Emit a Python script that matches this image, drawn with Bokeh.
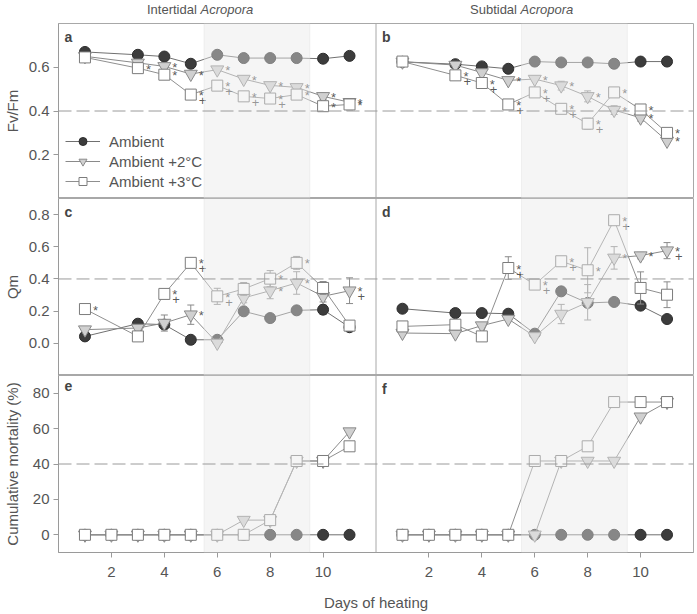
from bokeh.plotting import figure
from bokeh.models import (Range1d, FixedTicker, Span, BoxAnnotation, Label, Legend,
                          LegendItem, NumeralTickFormatter, Div)
from bokeh.layouts import column
from bokeh.embed import file_html
from bokeh.resources import INLINE
from bokeh.core.properties import value

FONT = "Liberation Sans"
TXT = "#555555"

# ---------------- data ----------------
days_pam = [1, 3, 4, 5, 6, 7, 8, 9, 10, 11]
days_mort = [1, 2, 3, 4, 5, 6, 7, 8, 9, 10, 11]
heat_start, heat_end = 5.5, 9.5
day_max = 12
x_ticks = [2, 4, 6, 8, 10]
threshold_pam = 0.4
threshold_mort = 40
column_titles = [("Intertidal", "Acropora"), ("Subtidal", "Acropora")]

# (a) Intertidal Fv/Fm
a_amb = [0.670, 0.657, 0.649, 0.616, 0.657, 0.642, 0.642, 0.642, 0.639, 0.652]
a_p2 = [0.650, 0.620, 0.604, 0.569, 0.589, 0.546, 0.517, 0.508, 0.467, 0.440]
a_p3 = [0.645, 0.596, 0.566, 0.475, 0.516, 0.467, 0.457, 0.475, 0.422, 0.430]
a_amb_se = [0, 0, 0, 0, 0, 0, 0, 0, 0, 0]
a_p2_se = [0, 0, 0, 0, 0, 0, 0, 0.012, 0.015, 0.015]
a_p3_se = [0.012, 0, 0, 0, 0, 0, 0, 0.02, 0.02, 0.025]
a_p2_sig = ["", "", "*", "*", "*", "*", "*", "*", "*", "*"]
a_p3_sig = ["", "*", "*", "*+", "*+", "*+", "*+", "*", "*", "*"]

# (b) Subtidal Fv/Fm
b_amb = [0.625, 0.614, 0.604, 0.593, 0.626, 0.622, 0.622, 0.616, 0.626, 0.626]
b_p2 = [0.625, 0.610, 0.576, 0.540, 0.546, 0.516, 0.467, 0.404, 0.369, 0.263]
b_p3 = [0.626, 0.563, 0.528, 0.430, 0.485, 0.410, 0.342, 0.485, 0.407, 0.300]
b_amb_se = [0, 0, 0, 0, 0, 0, 0, 0, 0, 0]
b_p2_se = [0, 0, 0, 0, 0, 0.02, 0.025, 0.02, 0.015, 0]
b_p3_se = [0.015, 0, 0, 0.01, 0.01, 0, 0.025, 0, 0, 0.02]
b_p2_sig = ["", "", "", "*", "*", "*", "*", "*", "*", "*"]
b_p3_sig = ["", "*+", "*+", "*+", "*+", "*+", "*+", "*", "*", "*"]

# (c) Intertidal Qm
c_amb = [0.043, 0.122, 0.116, 0.022, 0.022, 0.199, 0.157, 0.205, 0.209, 0.100]
c_p2 = [0.085, 0.095, 0.126, 0.178, 0.002, 0.282, 0.327, 0.375, 0.292, 0.327]
c_p3 = [0.213, 0.043, 0.307, 0.500, 0.292, 0.338, 0.402, 0.500, 0.344, 0.110]
c_amb_se = [0, 0, 0, 0, 0, 0, 0, 0, 0.03, 0.02]
c_p2_se = [0, 0, 0.05, 0.06, 0, 0.03, 0.05, 0.07, 0.035, 0.08]
c_p3_se = [0.02, 0, 0.02, 0.02, 0.05, 0.04, 0.05, 0.04, 0.04, 0.02]
c_p2_sig = ["", "", "", "*", "", "", "*", "*", "", "*+"]
c_p3_sig = ["*", "", "*+", "*+", "*+", "", "*", "*", "", ""]

# (d) Subtidal Qm
d_amb = [0.215, 0.188, 0.188, 0.184, 0.060, 0.323, 0.251, 0.257, 0.234, 0.151]
d_p2 = [0.064, 0.060, 0.110, 0.151, 0.043, 0.182, 0.255, 0.531, 0.545, 0.576]
d_p3 = [0.105, 0.116, 0.043, 0.468, 0.365, 0.510, 0.454, 0.765, 0.344, 0.302]
d_amb_se = [0, 0, 0, 0, 0, 0, 0, 0, 0, 0]
d_p2_se = [0, 0, 0, 0, 0, 0.06, 0.11, 0.07, 0.02, 0.05]
d_p3_se = [0.01, 0, 0.01, 0.07, 0.02, 0.02, 0.14, 0.01, 0.1, 0.08]
d_p2_sig = ["", "", "", "", "", "", "", "*", "*", "*+"]
d_p3_sig = ["", "", "", "*+", "*+", "*+", "*", "*+", "", ""]

# (e) Intertidal cumulative mortality (%)
e_amb = [0, 0, 0, 0, 0, 0, 0, 0, 0, 0, 0]
e_p2 = [0, 0, 0, 0, 0, 0, 8.3, 8.3, 41.7, 41.7, 58.3]
e_p3 = [0, 0, 0, 0, 0, 0, 0, 8.3, 41.7, 41.7, 50.0]

# (f) Subtidal cumulative mortality (%)
f_amb = [0, 0, 0, 0, 0, 0, 0, 0, 0, 0, 0]
f_p2 = [0, 0, 0, 0, 0, 0, 41.7, 41.7, 41.7, 66.7, 75.0]
f_p3 = [0, 0, 0, 0, 0, 41.7, 41.7, 50.0, 75.0, 75.0, 75.0]

series_labels = ["Ambient", "Ambient +2°C", "Ambient +3°C"]

# ---------------- styles ----------------
STY = [
    dict(marker="circle", size=11, fill="#3c3c3c", edge="#2e2e2e", conn="#707070"),
    dict(marker="inverted_triangle", size=13, fill="#d0d0d0", edge="#8a8a8a", conn="#8a8a8a"),
    dict(marker="square", size=11, fill="#ffffff", edge="#7c7c7c", conn="#8f8f8f"),
]


def make_fig(y0, y1, fh, top, bottom, with_x):
    p = figure(frame_width=635, frame_height=fh,
               x_range=Range1d(0, 2 * day_max), y_range=Range1d(y0, y1),
               min_border_left=52, min_border_right=2, min_border_top=top,
               min_border_bottom=bottom, output_backend="svg", toolbar_location=None,
               x_axis_location="below" if with_x else None)
    p.extra_x_ranges = {"right": Range1d(-day_max, day_max)}
    p.grid.visible = False
    p.outline_line_color = "#a8a8a8"
    p.background_fill_color = "white"
    p.border_fill_color = "white"
    for ax in p.axis:
        ax.axis_line_color = "#9a9a9a"
        ax.major_tick_line_color = "#9a9a9a"
        ax.minor_tick_line_color = None
        ax.major_tick_out = 5
        ax.major_tick_in = 0
        ax.major_label_text_font = FONT
        ax.major_label_text_font_size = "15px"
        ax.major_label_text_color = TXT
        ax.axis_label_text_font = FONT
        ax.axis_label_text_font_size = "15px"
        ax.axis_label_text_font_style = "normal"
        ax.axis_label_text_color = TXT
        ax.major_label_standoff = 4
    # heating period shading, both columns
    for rn in ["default", "right"]:
        p.add_layout(BoxAnnotation(left=heat_start, right=heat_end, x_range_name=rn,
                                   fill_color="#e8e8e8", fill_alpha=0.44,
                                   line_color="#d4d4d4", line_width=1))
    p.add_layout(Span(location=day_max, dimension="height", line_color="#a8a8a8", line_width=1))
    return p


def draw_series(p, x, y, se, sty, rn):
    ex = [xi for xi, e in zip(x, se) if e > 0]
    ylo = [yi - e for yi, e in zip(y, se) if e > 0]
    yhi = [yi + e for yi, e in zip(y, se) if e > 0]
    if ex:
        p.segment(ex, ylo, ex, yhi, line_color="#8a8a8a", line_width=1, x_range_name=rn)
        p.scatter(ex + ex, ylo + yhi, marker="dash", size=7, line_color="#8a8a8a",
                  line_width=1, x_range_name=rn)
    ln = p.line(x, y, line_color=sty["conn"], line_width=1, x_range_name=rn)
    mk = p.scatter(x, y, marker=sty["marker"], size=sty["size"], fill_color=sty["fill"],
                   line_color=sty["edge"], line_width=1, x_range_name=rn)
    return ln, mk


def draw_sig(p, x, y, sig, rn):
    sx = [xi for xi, s in zip(x, sig) if "*" in s]
    sy = [yi for yi, s in zip(y, sig) if "*" in s]
    px = [xi for xi, s in zip(x, sig) if "+" in s]
    py = [yi for yi, s in zip(y, sig) if "+" in s]
    if sx:
        p.text(sx, sy, text=["*"] * len(sx), x_offset=8, y_offset=1, x_range_name=rn,
               text_font=value(FONT), text_font_size="13px", text_color=TXT,
               text_alpha=0.99, text_baseline="alphabetic")
    if px:
        p.text(px, py, text=["+"] * len(px), x_offset=8, y_offset=6, x_range_name=rn,
               text_font=value(FONT), text_font_size="13px", text_color=TXT,
               text_alpha=0.99, text_baseline="alphabetic")


def letter(p, txt, rn, y1):
    p.add_layout(Label(x=0, y=y1, x_range_name=rn, x_offset=6, y_offset=-5, text=txt,
                       text_baseline="top", text_font=FONT, text_font_size="14px",
                       text_font_style="bold", text_color="#444444"))


# ---------------- column titles ----------------
span_style = "position:absolute;top:1px;white-space:nowrap;"
header_html = (
    f'<div style="position:relative;width:689px;height:23px;font-family:\'{FONT}\';'
    f'font-size:13px;color:{TXT};">'
    f'<span style="{span_style}left:147px;">{column_titles[0][0]} <i>{column_titles[0][1]}</i></span>'
    f'<span style="{span_style}left:470px;">{column_titles[1][0]} <i>{column_titles[1][1]}</i></span>'
    f'</div>'
)
header = Div(text=header_html, width=689, height=23, margin=0)

# ---------------- row 1: Fv/Fm ----------------
p1 = make_fig(0, 0.8, 175, 0, 0, False)
p1.yaxis.ticker = FixedTicker(ticks=[0.2, 0.4, 0.6])
p1.yaxis.formatter = NumeralTickFormatter(format="0.0")
p1.yaxis.axis_label = "Fv/Fm"
p1.yaxis.axis_label_standoff = 5
p1.add_layout(Span(location=threshold_pam, dimension="width", line_color="#9a9a9a",
                   line_dash="13 5", line_width=1))
leg_r = []
for vals, se, sty in zip([a_amb, a_p2, a_p3], [a_amb_se, a_p2_se, a_p3_se], STY):
    leg_r.append(draw_series(p1, days_pam, vals, se, sty, "default"))
for vals, se, sty in zip([b_amb, b_p2, b_p3], [b_amb_se, b_p2_se, b_p3_se], STY):
    draw_series(p1, days_pam, vals, se, sty, "right")
draw_sig(p1, days_pam, a_p2, a_p2_sig, "default")
draw_sig(p1, days_pam, a_p3, a_p3_sig, "default")
draw_sig(p1, days_pam, b_p2, b_p2_sig, "right")
draw_sig(p1, days_pam, b_p3, b_p3_sig, "right")
letter(p1, "a", "default", 0.8)
letter(p1, "b", "right", 0.8)
legend = Legend(items=[LegendItem(label=lab, renderers=list(r)) for lab, r in zip(series_labels, leg_r)],
                location=(0, 0), padding=7, margin=0, spacing=0, label_standoff=9,
                glyph_width=35, glyph_height=20, label_height=20,
                label_text_font=FONT, label_text_font_size="15px", label_text_color=TXT,
                background_fill_alpha=0, border_line_alpha=0)
p1.add_layout(legend)

# ---------------- row 2: Qm ----------------
p2 = make_fig(-0.2, 0.9, 177, 0, 0, False)
p2.yaxis.ticker = FixedTicker(ticks=[0.0, 0.2, 0.4, 0.6, 0.8])
p2.yaxis.formatter = NumeralTickFormatter(format="0.0")
p2.yaxis.axis_label = "Qm"
p2.yaxis.axis_label_standoff = 5
p2.add_layout(Span(location=threshold_pam, dimension="width", line_color="#9a9a9a",
                   line_dash="13 5", line_width=1))
for vals, se, sty in zip([c_amb, c_p2, c_p3], [c_amb_se, c_p2_se, c_p3_se], STY):
    draw_series(p2, days_pam, vals, se, sty, "default")
for vals, se, sty in zip([d_amb, d_p2, d_p3], [d_amb_se, d_p2_se, d_p3_se], STY):
    draw_series(p2, days_pam, vals, se, sty, "right")
draw_sig(p2, days_pam, c_p2, c_p2_sig, "default")
draw_sig(p2, days_pam, c_p3, c_p3_sig, "default")
draw_sig(p2, days_pam, d_p2, d_p2_sig, "right")
draw_sig(p2, days_pam, d_p3, d_p3_sig, "right")
letter(p2, "c", "default", 0.9)
letter(p2, "d", "right", 0.9)

# ---------------- row 3: mortality ----------------
p3 = make_fig(-10, 90, 177, 0, 48, True)
p3.yaxis.ticker = FixedTicker(ticks=[0, 20, 40, 60, 80])
p3.yaxis.axis_label = "Cumulative mortality (%)"
p3.yaxis.axis_label_standoff = 9
p3.xaxis.ticker = FixedTicker(ticks=x_ticks + [t + day_max for t in x_ticks])
p3.xaxis.major_label_overrides = {t + day_max: str(t) for t in x_ticks}
p3.xaxis.major_label_standoff = 9
p3.xaxis.axis_label = "Days of heating"
p3.xaxis.axis_label_standoff = 14
p3.add_layout(Span(location=threshold_mort, dimension="width", line_color="#9a9a9a",
                   line_dash="13 5", line_width=1))
zero_se = [0] * len(days_mort)
for vals, sty in zip([e_amb, e_p2, e_p3], STY):
    draw_series(p3, days_mort, vals, zero_se, sty, "default")
for vals, sty in zip([f_amb, f_p2, f_p3], STY):
    draw_series(p3, days_mort, vals, zero_se, sty, "right")
letter(p3, "e", "default", 90)
letter(p3, "f", "right", 90)

layout = column(header, p1, p2, p3, spacing=0)
open("out.html", "w").write(file_html(layout, INLINE))
